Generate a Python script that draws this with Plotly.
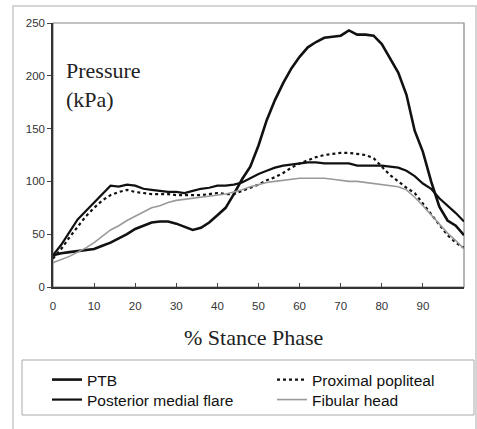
import plotly.graph_objects as go

stance = list(range(0, 101, 2))

ptb = [30, 32, 33, 34, 35, 36, 39, 42, 46, 50, 55, 58, 61, 62, 62, 60, 57, 54, 56, 61,
       68, 75, 88, 102, 114, 134, 158, 177, 193, 207, 218, 227, 232, 236, 237, 238,
       243, 239, 239, 238, 230, 217, 203, 182, 148, 128, 100, 76, 63, 58, 49]

medial_flare = [30, 40, 52, 64, 72, 80, 88, 96, 95, 97, 96, 93, 92, 91, 90, 90, 89, 91, 93, 94,
                96, 96, 97, 99, 103, 107, 110, 113, 115, 116, 117, 118, 118, 117, 117, 117,
                117, 115, 115, 115, 115, 114, 113, 110, 105, 98, 93, 84, 77, 70, 62]

proximal_popliteal = [27, 36, 47, 57, 67, 75, 82, 87, 90, 92, 90, 89, 88, 88, 88, 87, 87, 87, 87, 88,
                      89, 88, 88, 91, 94, 97, 101, 104, 108, 113, 117, 120, 123, 125, 126, 127,
                      127, 126, 125, 122, 114, 106, 100, 94, 89, 79, 68, 58, 49, 42, 37]

fibular_head = [23, 26, 29, 33, 37, 42, 48, 54, 58, 63, 67, 71, 75, 77, 80, 82, 83, 84, 85, 86,
                87, 88, 90, 92, 95, 97, 99, 100, 101, 102, 103, 103, 103, 103, 102, 101,
                100, 100, 99, 98, 97, 96, 95, 92, 85, 77, 68, 59, 51, 44, 36]

x_ticks = [0, 10, 20, 30, 40, 50, 60, 70, 80, 90]
y_ticks = [0, 50, 100, 150, 200, 250]

fig = go.Figure()
fig.add_trace(go.Scatter(x=stance, y=ptb, name="PTB", mode="lines", legend="legend",
                         line=dict(color="#111111", width=2.6)))
fig.add_trace(go.Scatter(x=stance, y=proximal_popliteal, name="Proximal popliteal", mode="lines",
                         legend="legend2",
                         line=dict(color="#111111", width=2.2, dash="dot")))
fig.add_trace(go.Scatter(x=stance, y=medial_flare, name="Posterior medial flare", mode="lines",
                         legend="legend3",
                         line=dict(color="#111111", width=2.2)))
fig.add_trace(go.Scatter(x=stance, y=fibular_head, name="Fibular head", mode="lines",
                         legend="legend4",
                         line=dict(color="#9a9a9a", width=1.6)))

W, H = 477, 429
L, R, T, B = 53, 13, 23, 142
pw, ph = W - L - R, H - T - B

def px_x(p):
    return (p - L) / pw

def px_y(p):
    return (H - B - p) / ph

legend_font = dict(family="Liberation Sans, Arial", size=15.5, color="#111")

def leg(xpx, ypx):
    return dict(xref="container", yref="container", x=xpx / W, y=1 - ypx / H,
                xanchor="left", yanchor="middle", bgcolor="rgba(0,0,0,0)",
                borderwidth=0, font=legend_font)

fig.update_layout(
    width=W, height=H, autosize=False,
    margin=dict(l=L, r=R, t=T, b=B, autoexpand=False),
    paper_bgcolor="white", plot_bgcolor="white",
    font=dict(family="Liberation Sans, Arial", color="#222"),
    xaxis=dict(range=[0, 100], tickvals=x_ticks, ticks="inside", ticklen=4,
               tickcolor="#444", showline=True, linecolor="#333", linewidth=1.5,
               showgrid=False, zeroline=False, tickfont=dict(size=11.5, color="#333"),
               ticklabelstandoff=7),
    yaxis=dict(range=[0, 250], tickvals=y_ticks, ticks="outside", ticklen=4,
               tickcolor="#444", showline=True, linecolor="#333", linewidth=1.5,
               showgrid=False, zeroline=False, tickfont=dict(size=11.5, color="#333")),
    showlegend=True,
    legend=leg(47, 380),
    legend2=leg(272, 380),
    legend3=leg(47, 400),
    legend4=leg(272, 400),
    shapes=[
        dict(type="rect", xref="paper", yref="paper", x0=0, x1=1, y0=0, y1=1,
             line=dict(color="#888", width=1.2), layer="below"),
        dict(type="rect", xref="paper", yref="paper",
             x0=px_x(13), x1=px_x(476), y0=px_y(6), y1=px_y(440),
             line=dict(color="#c8c8c8", width=1.5), layer="above"),
        dict(type="rect", xref="paper", yref="paper",
             x0=px_x(22), x1=px_x(474), y0=px_y(360), y1=px_y(415),
             line=dict(color="#aaaaaa", width=1), layer="above"),
    ],
    annotations=[
        dict(text="Pressure<br>(kPa)", xref="paper", yref="paper",
             x=px_x(64), y=px_y(56), xanchor="left", yanchor="top", align="left",
             showarrow=False,
             font=dict(family="Liberation Serif, Times New Roman", size=22, color="#222")),
        dict(text="% Stance Phase", xref="paper", yref="paper",
             x=px_x(253), y=px_y(337), xanchor="center", yanchor="middle",
             showarrow=False,
             font=dict(family="Liberation Serif, Times New Roman", size=22, color="#222")),
    ],
)

fig.write_html("out.html", config={"displayModeBar": False},
               post_script="document.body.style.margin='0';document.body.style.overflow='hidden';")
